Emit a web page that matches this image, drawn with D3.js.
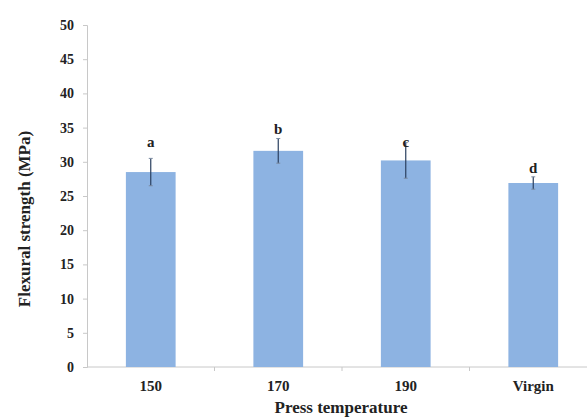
<!DOCTYPE html>
<html>
<head>
<meta charset="utf-8">
<script src="https://cdn.jsdelivr.net/npm/d3@7"></script>
<style>
  body { margin: 0; background: #fff; }
  svg text { font-family: "Liberation Serif", "Times New Roman", serif; font-weight: bold; fill: #222; }
</style>
</head>
<body>
<div id="chart"></div>
<script>
// data
const categories = ['150', '170', '190', 'Virgin'];
const strength   = [28.5, 31.6, 30.2, 26.9];   // MPa
const errors     = [2.0, 1.8, 2.6, 0.9];
const letters    = ['a', 'b', 'c', 'd'];
const letterAt   = [33.0, 34.9, 33.0, 29.2];   // where the group letters sit
const yTicks     = [0, 5, 10, 15, 20, 25, 30, 35, 40, 45, 50];

const width = 587, height = 418;
// the original figure is cut off on the right, so the plot runs past the edge
const margin = { top: 25, left: 87, plotRight: 597, bottom: 367 };

const svg = d3.select('#chart').append('svg')
    .attr('width', width)
    .attr('height', height);

const x = d3.scaleBand()
    .domain(categories)
    .range([margin.left, margin.plotRight])
    .paddingInner(0.61)
    .paddingOuter(0.305);

const y = d3.scaleLinear()
    .domain([0, 50])
    .range([margin.bottom, margin.top]);

// ----------------------------------
// AXES
// ----------------------------------
const yAxis = d3.axisLeft(y).tickValues(yTicks).tickSize(4).tickPadding(9);
const gy = svg.append('g')
    .attr('class', 'y axis')
    .attr('transform', `translate(${margin.left},0)`)
    .call(yAxis);
gy.select('.domain').attr('stroke', '#c8c8c8');
gy.selectAll('.tick line').attr('stroke', '#c8c8c8');
gy.selectAll('.tick text').style('font-size', '14px');

// x axis: ticks sit on the category boundaries, labels in the middle
const xAxisG = svg.append('g').attr('class', 'x axis');
xAxisG.append('line')
    .attr('x1', margin.left).attr('x2', margin.plotRight)
    .attr('y1', y(0)).attr('y2', y(0))
    .attr('stroke', '#c8c8c8');
const step = x.step();
xAxisG.selectAll('.xtick')
    .data(categories.slice(1))
    .enter().append('line')
    .attr('x1', d => x(d) - x.paddingInner() * step / 2)
    .attr('x2', d => x(d) - x.paddingInner() * step / 2)
    .attr('y1', y(0)).attr('y2', y(0) + 4)
    .attr('stroke', '#c8c8c8');
xAxisG.selectAll('.xlabel')
    .data(categories)
    .enter().append('text')
    .attr('x', d => x(d) + x.bandwidth() / 2)
    .attr('y', y(0) + 24)
    .attr('text-anchor', 'middle')
    .style('font-size', '15px')
    .text(d => d);

// ----------------------------------
// BARS + ERROR BARS
// ----------------------------------
const rows = categories.map((c, i) => ({ c, v: strength[i], e: errors[i], l: letters[i], ly: letterAt[i] }));

svg.selectAll('.bar')
    .data(rows)
    .enter().append('rect')
    .attr('class', 'bar')
    .attr('x', d => x(d.c))
    .attr('y', d => y(d.v))
    .attr('width', x.bandwidth())
    .attr('height', d => y(0) - y(d.v))
    .style('fill', '#8db3e2');

const err = svg.selectAll('.err').data(rows).enter().append('g').attr('class', 'err');
err.append('line')
    .attr('x1', d => x(d.c) + x.bandwidth() / 2)
    .attr('x2', d => x(d.c) + x.bandwidth() / 2)
    .attr('y1', d => y(d.v + d.e))
    .attr('y2', d => y(d.v - d.e))
    .attr('stroke', '#2a3f5f')
    .attr('stroke-width', 1.2);
err.selectAll('.cap')
    .data(d => [d.v + d.e, d.v - d.e].map(v => ({ c: d.c, v })))
    .enter().append('line')
    .attr('x1', d => x(d.c) + x.bandwidth() / 2 - 2)
    .attr('x2', d => x(d.c) + x.bandwidth() / 2 + 2)
    .attr('y1', d => y(d.v))
    .attr('y2', d => y(d.v))
    .attr('stroke', '#7a8aa0')
    .attr('stroke-width', 1);

svg.selectAll('.letter')
    .data(rows)
    .enter().append('text')
    .attr('x', d => x(d.c) + x.bandwidth() / 2)
    .attr('y', d => y(d.ly))
    .attr('dy', '0.35em')
    .attr('text-anchor', 'middle')
    .style('font-size', '15px')
    .text(d => d.l);

// ----------------------------------
// AXIS TITLES
// ----------------------------------
svg.append('text')
    .attr('x', 341)
    .attr('y', 413)
    .attr('text-anchor', 'middle')
    .style('font-size', '17px')
    .text('Press temperature');

svg.append('text')
    .attr('transform', 'translate(24,219) rotate(-90)')
    .attr('dy', '0.35em')
    .attr('text-anchor', 'middle')
    .style('font-size', '17px')
    .text('Flexural strength (MPa)');
</script>
</body>
</html>
